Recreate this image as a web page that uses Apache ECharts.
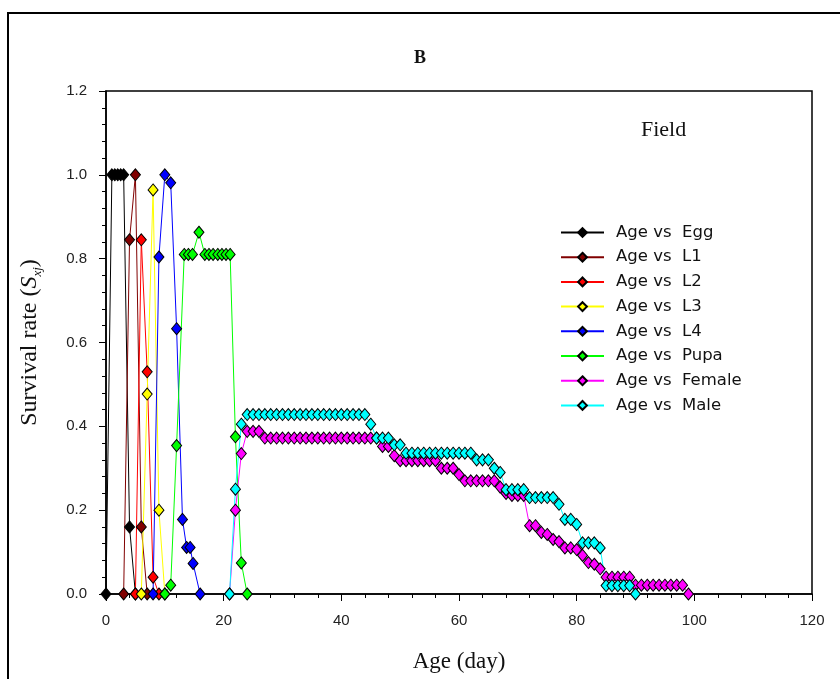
<!DOCTYPE html>
<html lang="en">

<head>
    <meta charset="UTF-8">
    <title>Survival rate - Field</title>
    <style>
        body {
            margin: 0;
            background: #fff;
        }

        #chart {
            width: 840px;
            height: 679px;
        }
    </style>
</head>

<body>
    <div id="chart"></div>
    <script src="https://cdn.jsdelivr.net/npm/echarts@6/dist/echarts.min.js"></script>
    <script>
        // [age (day), survival rate]
        const egg = [[0, 0], [1, 1], [1.5, 1], [2, 1], [2.5, 1], [3, 1], [4, 0.16], [5, 0]];
        const l1 = [[3, 0], [4, 0.845], [5, 1], [6, 0.16], [7, 0]];
        const l2 = [[5, 0], [6, 0.845], [7, 0.53], [8, 0.04], [9, 0]];
        const l3 = [[6, 0], [7, 0.477], [8, 0.964], [9, 0.2], [10, 0]];
        const l4 = [[8, 0], [9, 0.804], [10, 1], [11, 0.981], [12, 0.633], [13, 0.178],
            [13.7, 0.111], [14.3, 0.111], [14.8, 0.073], [16, 0]];
        const pupa = [[10, 0], [11, 0.021], [12, 0.354], [13.3, 0.81], [14, 0.81], [14.7, 0.81],
            [15.8, 0.863], [16.8, 0.81], [17.5, 0.81], [18.2, 0.81], [19, 0.81], [19.7, 0.81],
            [20.4, 0.81], [21.1, 0.81], [22, 0.375], [23, 0.074], [24, 0]];
        const female = [[21, 0], [22, 0.2], [23, 0.335], [24, 0.388], [25, 0.388], [26, 0.388],
            [27, 0.372], [28, 0.372], [29, 0.372], [30, 0.372], [31, 0.372], [32, 0.372], [33, 0.372],
            [34, 0.372], [35, 0.372], [36, 0.372], [37, 0.372], [38, 0.372], [39, 0.372], [40, 0.372],
            [41, 0.372], [42, 0.372], [43, 0.372], [44, 0.372], [45, 0.372], [46, 0.372],
            [47, 0.352], [48, 0.352], [49, 0.33], [50, 0.318], [51, 0.318], [52, 0.318], [53, 0.318],
            [54, 0.318], [55, 0.318], [56, 0.318], [57, 0.3], [58, 0.3], [59, 0.3], [60, 0.285],
            [61, 0.27], [62, 0.27], [63, 0.27], [64, 0.27], [65, 0.27], [66, 0.27], [67, 0.255],
            [68, 0.24], [69, 0.235], [70, 0.235], [71, 0.235], [72, 0.163], [73, 0.163], [74, 0.147],
            [75, 0.142], [76, 0.13], [77, 0.125], [78, 0.11], [79, 0.11], [80, 0.106], [81, 0.092],
            [82, 0.075], [83, 0.071], [84, 0.06], [85, 0.04], [86, 0.04], [87, 0.04], [88, 0.04],
            [89, 0.04], [90, 0.021], [91, 0.021], [92, 0.021], [93, 0.021], [94, 0.021], [95, 0.021],
            [96, 0.021], [97, 0.021], [98, 0.021], [99, 0]];
        const male = [[21, 0], [22, 0.25], [23, 0.405], [24, 0.428], [25, 0.428], [26, 0.428],
            [27, 0.428], [28, 0.428], [29, 0.428], [30, 0.428], [31, 0.428], [32, 0.428], [33, 0.428],
            [34, 0.428], [35, 0.428], [36, 0.428], [37, 0.428], [38, 0.428], [39, 0.428], [40, 0.428],
            [41, 0.428], [42, 0.428], [43, 0.428], [44, 0.428], [45, 0.405], [46, 0.372], [47, 0.372],
            [48, 0.372], [49, 0.356], [50, 0.356], [51, 0.336], [52, 0.336], [53, 0.336], [54, 0.336],
            [55, 0.336], [56, 0.336], [57, 0.336], [58, 0.336], [59, 0.336], [60, 0.336], [61, 0.336],
            [62, 0.336], [63, 0.32], [64, 0.32], [65, 0.32], [66, 0.3], [67, 0.29], [68, 0.249],
            [69, 0.249], [70, 0.249], [71, 0.249], [72, 0.23], [73, 0.23], [74, 0.23], [75, 0.23],
            [76, 0.23], [77, 0.214], [78, 0.178], [79, 0.178], [80, 0.166], [81, 0.122], [82, 0.122],
            [83, 0.122], [84, 0.11], [85, 0.02], [86, 0.02], [87, 0.02], [88, 0.02], [89, 0.02], [90, 0]];

        const stageNames = ['Age vs  Egg', 'Age vs  L1', 'Age vs  L2', 'Age vs  L3', 'Age vs  L4',
            'Age vs  Pupa', 'Age vs  Female', 'Age vs  Male'];
        const stageColors = ['#000000', '#800000', '#ff0000', '#ffff00', '#0000ff',
            '#00ff00', '#ff00ff', '#00ffff'];
        const stages = [egg, l1, l2, l3, l4, pupa, female, male];

        const sans = 'Liberation Sans, Arial, sans-serif';
        const wideSans = 'DejaVu Sans, Verdana, sans-serif';
        const serif = 'Liberation Serif, Times New Roman, serif';

        const chart = echarts.init(document.getElementById('chart'));

        function makeSeries(data, i) {
            return {
                name: stageNames[i],
                type: 'line',
                data: data,
                symbol: 'diamond',
                symbolSize: [10, 12],
                itemStyle: { color: stageColors[i], borderColor: '#000', borderWidth: 1 },
                lineStyle: { color: stageColors[i], width: 1 },
                emphasis: { disabled: true },
            };
        }

        const axisCommon = {
            type: 'value',
            axisLine: { lineStyle: { color: '#000', width: 1.5 } },
            axisTick: { length: 7, lineStyle: { color: '#000', width: 1 } },
            minorTick: { show: true, splitNumber: 5, length: 4, lineStyle: { color: '#000', width: 1 } },
            splitLine: { show: false },
        };

        chart.setOption({
            animation: false,
            backgroundColor: '#fff',
            title: {
                text: 'B',
                left: 'center',
                top: 44,
                textStyle: { fontFamily: serif, fontWeight: 'bold', fontSize: 18, color: '#111' },
            },
            graphic: [
                {
                    type: 'rect',
                    shape: { x: 8, y: 13, width: 900, height: 900 },
                    style: { fill: null, stroke: '#000', lineWidth: 2 },
                    silent: true,
                },
                {
                    type: 'text',
                    x: 641,
                    y: 119,
                    style: { text: 'Field', font: '22px ' + serif, fill: '#111' },
                },
            ],
            legend: {
                orient: 'vertical',
                left: 555,
                top: 219,
                itemWidth: 43,
                itemHeight: 11,
                itemGap: 7.7,
                data: stageNames,
                textStyle: {
                    fontFamily: wideSans,
                    fontSize: 16.5,
                    lineHeight: 15,
                    color: '#111',
                    padding: [0, 0, 0, 7],
                },
            },
            grid: {
                left: 106,
                right: 28,
                top: 91,
                bottom: 85,
                show: true,
                borderColor: '#000',
                borderWidth: 1.5,
                outerBoundsMode: 'none',
            },
            xAxis: Object.assign({}, axisCommon, {
                min: 0,
                max: 120,
                interval: 20,
                axisLabel: { margin: 19, fontSize: 15, fontFamily: sans, color: '#222' },
                name: 'Age (day)',
                nameLocation: 'middle',
                nameGap: 56,
                nameTextStyle: { fontFamily: serif, fontSize: 23, color: '#111' },
            }),
            yAxis: Object.assign({}, axisCommon, {
                min: 0,
                max: 1.2,
                interval: 0.2,
                axisLabel: {
                    margin: 19,
                    fontSize: 15,
                    fontFamily: sans,
                    color: '#222',
                    formatter: v => v.toFixed(1),
                },
                name: '{a|Survival rate (}{i|S}{s|xj}{a|)}',
                nameLocation: 'middle',
                nameGap: 62,
                nameTextStyle: {
                    rich: {
                        a: { fontFamily: serif, fontSize: 24, color: '#111', lineHeight: 28 },
                        i: { fontFamily: serif, fontSize: 24, fontStyle: 'italic', color: '#111', lineHeight: 28 },
                        s: { fontFamily: serif, fontSize: 13, fontStyle: 'italic', color: '#111', lineHeight: 13, verticalAlign: 'bottom' },
                    },
                },
            }),
            series: stages.map(makeSeries),
        });
    </script>
</body>

</html>
